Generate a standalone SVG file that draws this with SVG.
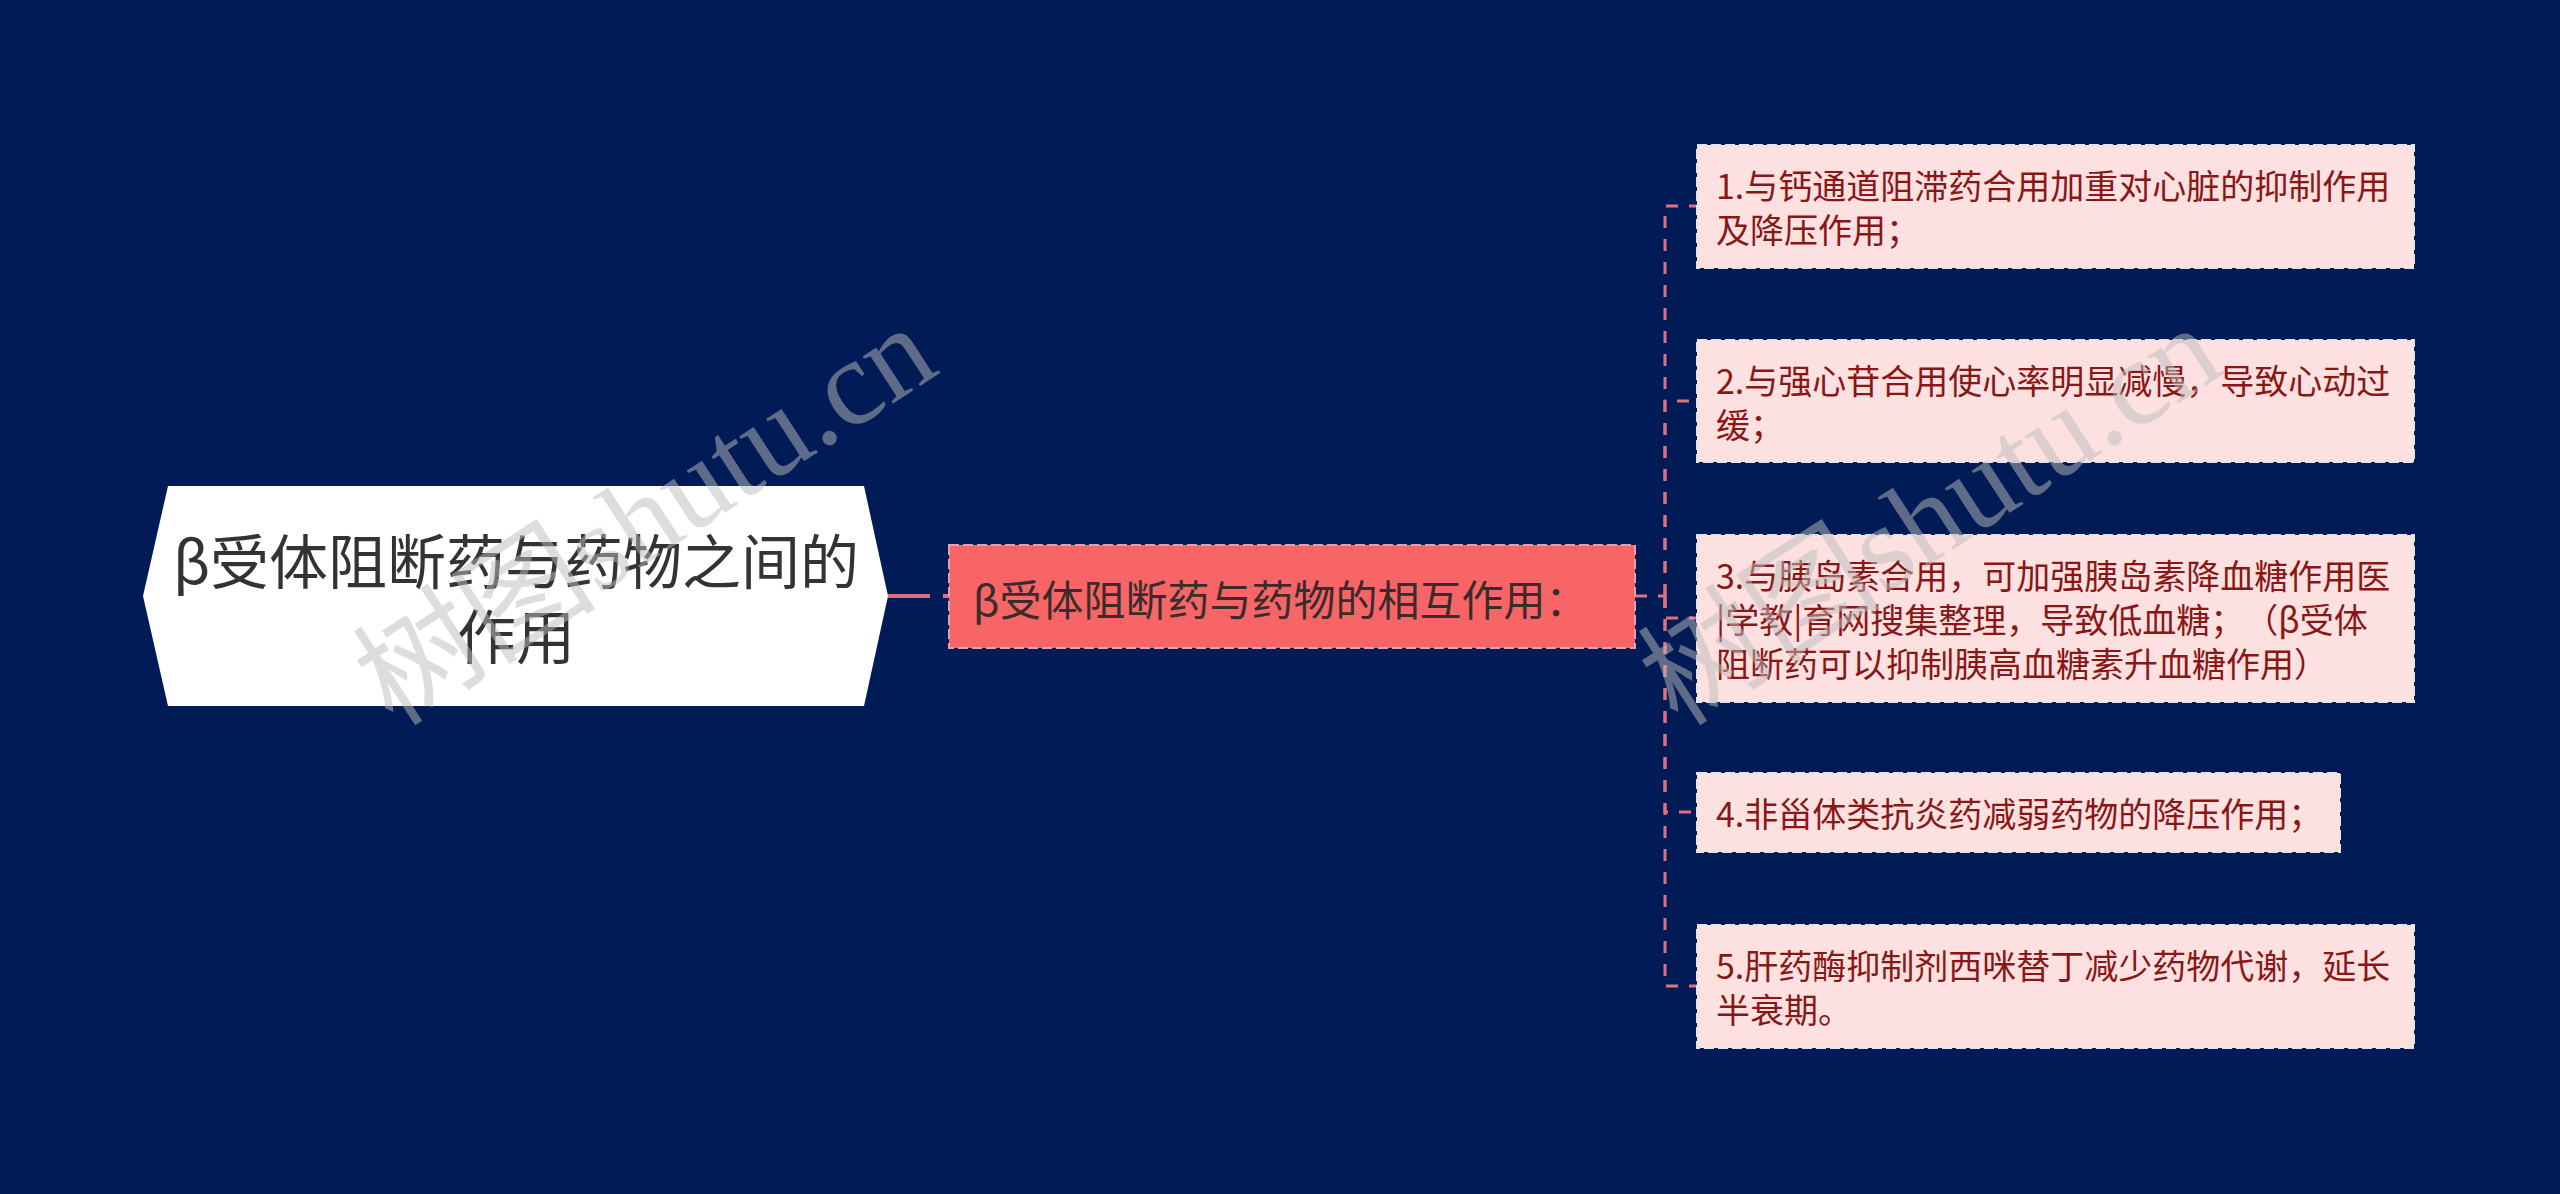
<svg xmlns="http://www.w3.org/2000/svg" width="2560" height="1194" viewBox="0 0 2560 1194">
<style>
.cjk{font-family:"Noto Sans CJK SC","Noto Sans",sans-serif;text-spacing-trim:space-all;}
.root-t{font-size:59px;fill:#333333;}
.mid-t{font-size:42px;fill:#3a2c2c;}
.leaf-t{font-size:34px;fill:#8a1616;}
.leaf{fill:#fde1e1;stroke:#e4e4e4;stroke-width:2;stroke-dasharray:10 4;}
.conn{fill:none;stroke:#e0707f;stroke-width:3;stroke-dasharray:12 11;}
.wm{font-family:"Liberation Serif","Noto Sans CJK SC",serif;font-size:122px;fill:#bdbdbd;opacity:0.5;}
</style>
<rect x="0" y="0" width="2560" height="1194" fill="#011b56"/>
<g id="connectors">
<path d="M887 596 H949" fill="none" stroke="#e0707f" stroke-width="4" stroke-dasharray="43 13"/>
<path class="conn" d="M1635 596 H1665"/>
<path class="conn" d="M1665 596 V206 H1697"/>
<path class="conn" d="M1665 596 V401 H1697"/>
<path class="conn" d="M1665 596 V618 H1697"/>
<path class="conn" d="M1665 596 V812 H1697"/>
<path class="conn" d="M1665 596 V986 H1697"/>
</g>
<g id="root">
<polygon points="143,596 168,486 864,486 888,596 864,706 168,706" fill="#ffffff"/>
<text class="cjk root-t" x="516" y="558" text-anchor="middle" dominant-baseline="central">β受体阻断药与药物之间的</text>
<text class="cjk root-t" x="516" y="633" text-anchor="middle" dominant-baseline="central">作用</text>
</g>
<g id="middle">
<rect x="949" y="545" width="686" height="103" fill="#f76566" stroke="#e8a0a6" stroke-width="2" stroke-dasharray="10 4"/>
<text class="cjk mid-t" x="973" y="597" dominant-baseline="central">β受体阻断药与药物的相互作用：</text>
</g>
<g id="leaf1">
<rect class="leaf" x="1697" y="145" width="717" height="123"/>
<text class="cjk leaf-t" x="1716" y="184" dominant-baseline="central">1.与钙通道阻滞药合用加重对心脏的抑制作用</text>
<text class="cjk leaf-t" x="1716" y="228" dominant-baseline="central">及降压作用；</text>
</g>
<g id="leaf2">
<rect class="leaf" x="1697" y="340" width="717" height="122"/>
<text class="cjk leaf-t" x="1716" y="379" dominant-baseline="central">2.与强心苷合用使心率明显减慢，导致心动过</text>
<text class="cjk leaf-t" x="1716" y="423" dominant-baseline="central">缓；</text>
</g>
<g id="leaf3">
<rect class="leaf" x="1697" y="535" width="717" height="167"/>
<text class="cjk leaf-t" x="1716" y="574" dominant-baseline="central">3.与胰岛素合用，可加强胰岛素降血糖作用医</text>
<text class="cjk leaf-t" x="1716" y="618" dominant-baseline="central">|学教|育网搜集整理，导致低血糖；（β受体</text>
<text class="cjk leaf-t" x="1716" y="662" dominant-baseline="central">阻断药可以抑制胰高血糖素升血糖作用）</text>
</g>
<g id="leaf4">
<rect class="leaf" x="1697" y="773" width="643" height="79"/>
<text class="cjk leaf-t" x="1716" y="812" dominant-baseline="central">4.非甾体类抗炎药减弱药物的降压作用；</text>
</g>
<g id="leaf5">
<rect class="leaf" x="1697" y="925" width="717" height="123"/>
<text class="cjk leaf-t" x="1716" y="964" dominant-baseline="central">5.肝药酶抑制剂西咪替丁减少药物代谢，延长</text>
<text class="cjk leaf-t" x="1716" y="1008" dominant-baseline="central">半衰期。</text>
</g>
<g id="watermarks">
<text class="wm" x="645" y="515" text-anchor="middle" dominant-baseline="central" transform="rotate(-33 645 515)">树图shutu.cn</text>
<text class="wm" x="1930" y="515" text-anchor="middle" dominant-baseline="central" transform="rotate(-33 1930 515)">树图shutu.cn</text>
</g>
</svg>
